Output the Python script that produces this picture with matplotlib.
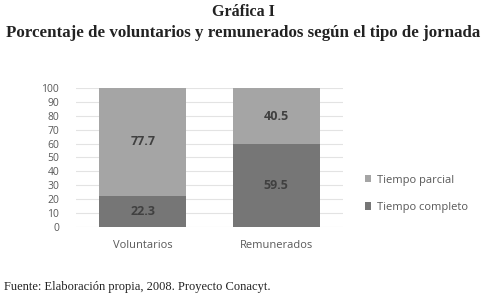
import matplotlib.pyplot as plt
import numpy as np

categorias = ["Voluntarios", "Remunerados"]
completo = [22.3, 59.5]
parcial = [77.7, 40.5]
series = ["Tiempo parcial", "Tiempo completo"]

c_parcial = "#a5a5a5"
c_completo = "#767676"
txt_gray = "#595959"

fig = plt.figure(figsize=(4.86, 2.96), dpi=100)
ax = fig.add_axes([0.156, 0.233, 0.55, 0.47])

x = np.arange(len(categorias))
b1 = ax.bar(x, completo, width=0.65, color=c_completo, label=series[1], zorder=2)
b2 = ax.bar(x, parcial, width=0.65, bottom=completo, color=c_parcial, label=series[0], zorder=2)

for i in range(len(categorias)):
    ax.text(x[i], completo[i] / 2, f"{completo[i]:.1f}", ha="center", va="center",
            fontsize=9, fontweight="bold", color="#404040", family="Open Sans")
    ax.text(x[i], completo[i] + parcial[i] / 2, f"{parcial[i]:.1f}", ha="center", va="center",
            fontsize=9, fontweight="bold", color="#404040", family="Open Sans")

ax.set_xlim(-0.5, 1.5)
ax.set_ylim(0, 100)
ax.set_yticks(range(0, 101, 10))
ax.set_xticks(x)
ax.set_xticklabels(categorias)
ax.yaxis.grid(True, color="#e3e3e3", linewidth=0.8, zorder=0)
ax.set_axisbelow(True)
for s in ax.spines.values():
    s.set_visible(False)
ax.tick_params(axis="both", length=0, colors=txt_gray, labelsize=7.5)
ax.tick_params(axis="x", pad=9, labelsize=8)
ax.tick_params(axis="y", pad=12)
for lab in ax.get_xticklabels() + ax.get_yticklabels():
    lab.set_family("Open Sans")

handles = [b2, b1]
leg = fig.legend(handles, series, loc="center left", bbox_to_anchor=(0.73, 0.345),
                 frameon=False, handlelength=0.6, handleheight=0.6,
                 handletextpad=0.5, labelspacing=1.45, prop={"family": "Open Sans", "size": 8})
for t in leg.get_texts():
    t.set_color(txt_gray)

fig.text(0.5, 0.958, "Gráfica I", ha="center", va="center", fontsize=11.5,
         fontweight="bold", family="Liberation Serif", color="#222222")
fig.text(0.5, 0.89, "Porcentaje de voluntarios y remunerados según el tipo de jornada",
         ha="center", va="center", fontsize=12.2, fontweight="bold",
         family="Liberation Serif", color="#222222")
fig.text(0.008, 0.032, "Fuente: Elaboración propia, 2008. Proyecto Conacyt.",
         ha="left", va="center", fontsize=9, family="Liberation Serif", color="#222222")

fig.savefig("out.png", dpi=100)
